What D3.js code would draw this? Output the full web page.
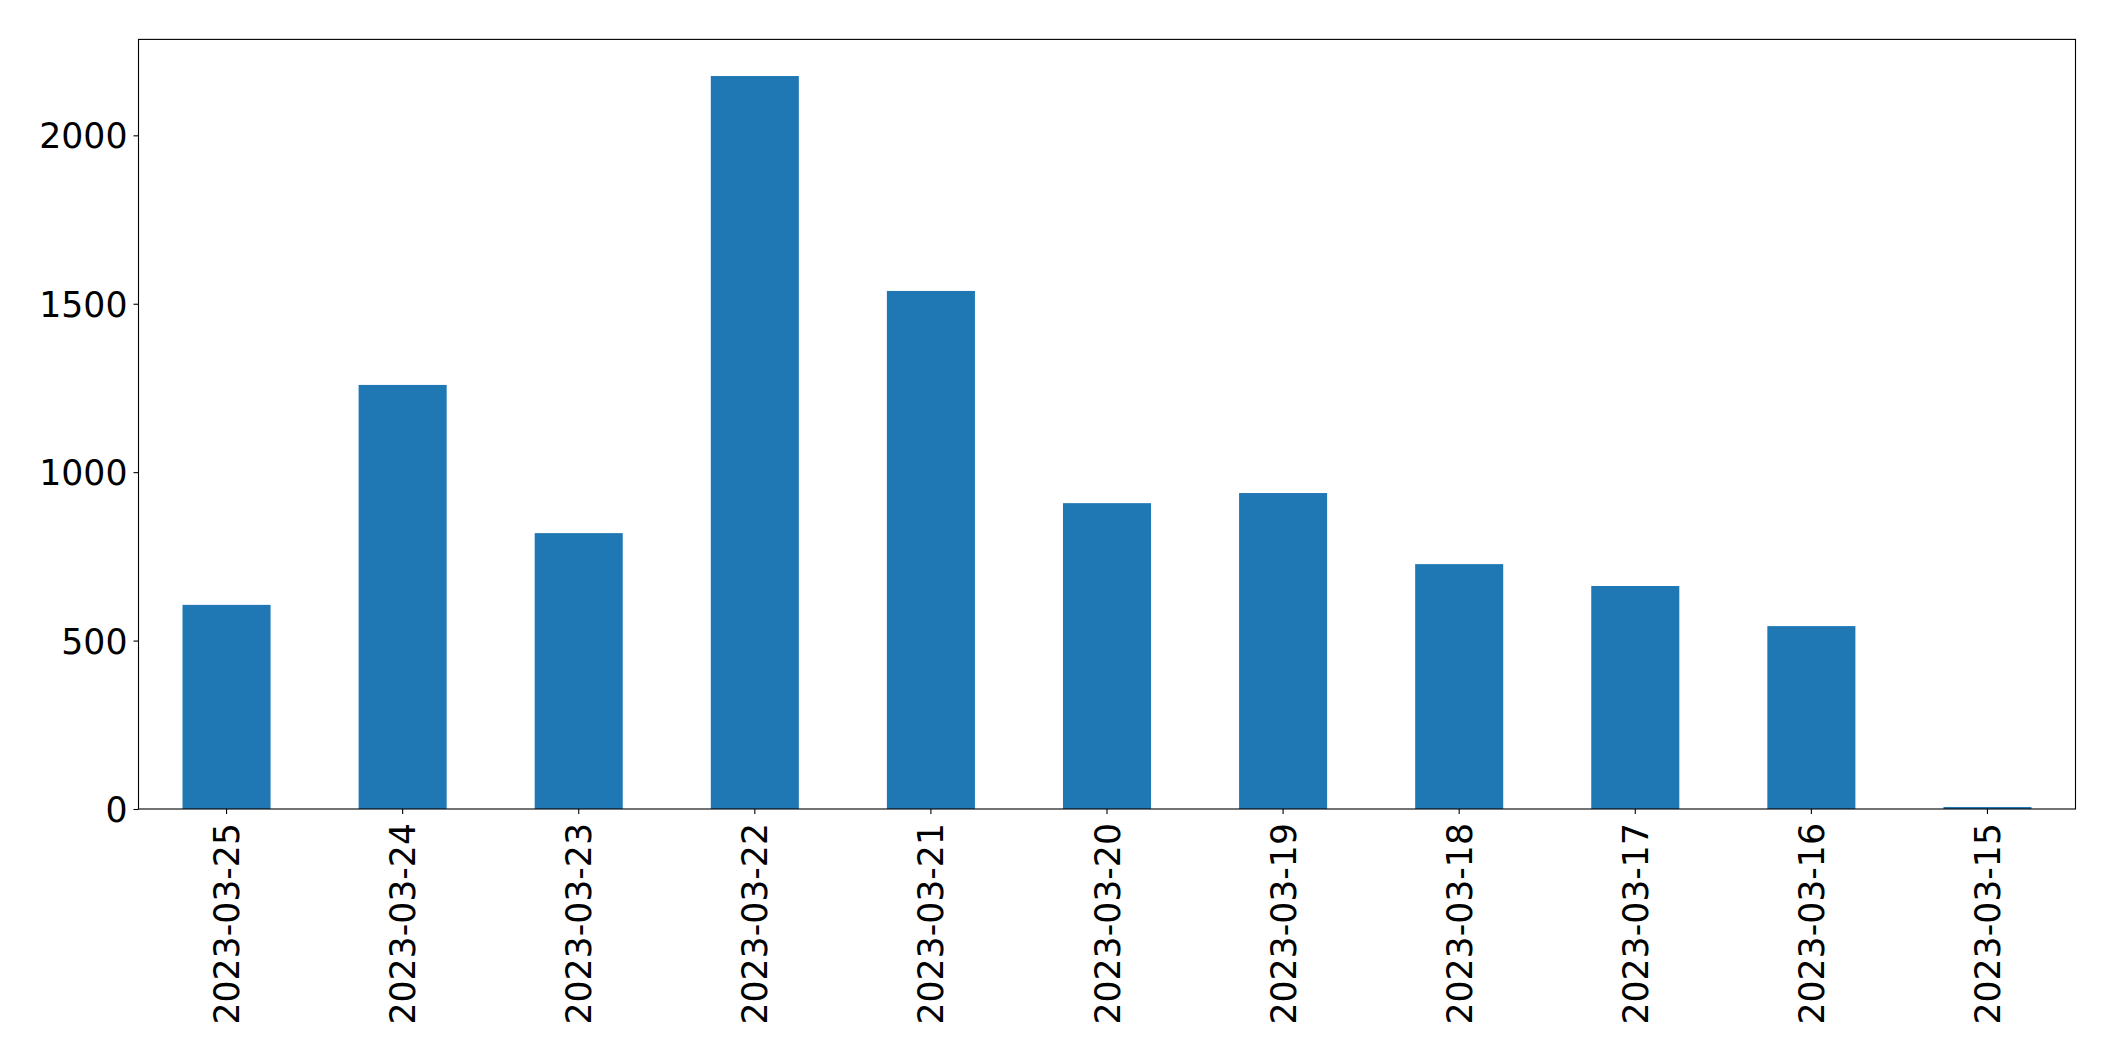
<!DOCTYPE html>
<html>
<head>
<meta charset="utf-8">
<script src="https://cdn.jsdelivr.net/npm/d3@7"></script>
<style>
  html, body { margin: 0; padding: 0; background: #ffffff; }
  svg { display: block; }
  text { font-family: "DejaVu Sans", sans-serif; }
</style>
</head>
<body>
<svg id="chart" width="2115" height="1061"></svg>
<script>
const categories = ["2023-03-25","2023-03-24","2023-03-23","2023-03-22","2023-03-21","2023-03-20","2023-03-19","2023-03-18","2023-03-17","2023-03-16","2023-03-15"];
const values = [606, 1259, 819, 2176, 1538, 908, 938, 727, 662, 543, 6];
const yTicks = [0, 500, 1000, 1500, 2000];

const W = 2115, H = 1061;
const margin = { left: 138.5, right: W - 2075.5, top: 39.4, bottom: H - 809 };
const fontSize = 34.7;

const svg = d3.select("#chart");

const x = d3.scaleBand()
  .domain(categories)
  .range([margin.left, W - margin.right])
  .paddingInner(0.5)
  .paddingOuter(0.25);

const y = d3.scaleLinear()
  .domain([0, d3.max(values) * 1.05])
  .range([H - margin.bottom, margin.top]);

// bars
svg.append("g")
  .selectAll("rect")
  .data(values)
  .join("rect")
  .attr("x", (d, i) => x(categories[i]))
  .attr("width", x.bandwidth())
  .attr("y", d => y(d))
  .attr("height", d => y(0) - y(d))
  .attr("fill", "#1f77b4");

// y axis
const yAxis = svg.append("g")
  .attr("transform", `translate(${margin.left},0)`)
  .call(d3.axisLeft(y).tickValues(yTicks).tickFormat(d3.format("d")).tickSize(5).tickPadding(6));
yAxis.select(".domain").remove();
yAxis.selectAll("line").attr("stroke", "#000").attr("stroke-width", 1.1);
yAxis.selectAll("text").attr("font-size", fontSize).attr("fill", "#000")
  .attr("font-family", "'DejaVu Sans', sans-serif").attr("dy", "0.36em");

// x axis
const xAxis = svg.append("g")
  .attr("transform", `translate(0,${H - margin.bottom})`)
  .call(d3.axisBottom(x).tickSize(5).tickPadding(0));
xAxis.select(".domain").remove();
xAxis.selectAll("line").attr("stroke", "#000").attr("stroke-width", 1.1);
xAxis.selectAll("text")
  .attr("font-size", fontSize)
  .attr("fill", "#000")
  .attr("font-family", "'DejaVu Sans', sans-serif")
  .attr("text-anchor", "end")
  .attr("x", 0)
  .attr("y", 0)
  .attr("dy", "0.36em")
  .attr("transform", "translate(0,14) rotate(-90)");

// frame
svg.append("rect")
  .attr("x", margin.left)
  .attr("y", margin.top)
  .attr("width", W - margin.right - margin.left)
  .attr("height", H - margin.bottom - margin.top)
  .attr("fill", "none")
  .attr("stroke", "#000")
  .attr("stroke-width", 1.1);
</script>
</body>
</html>
